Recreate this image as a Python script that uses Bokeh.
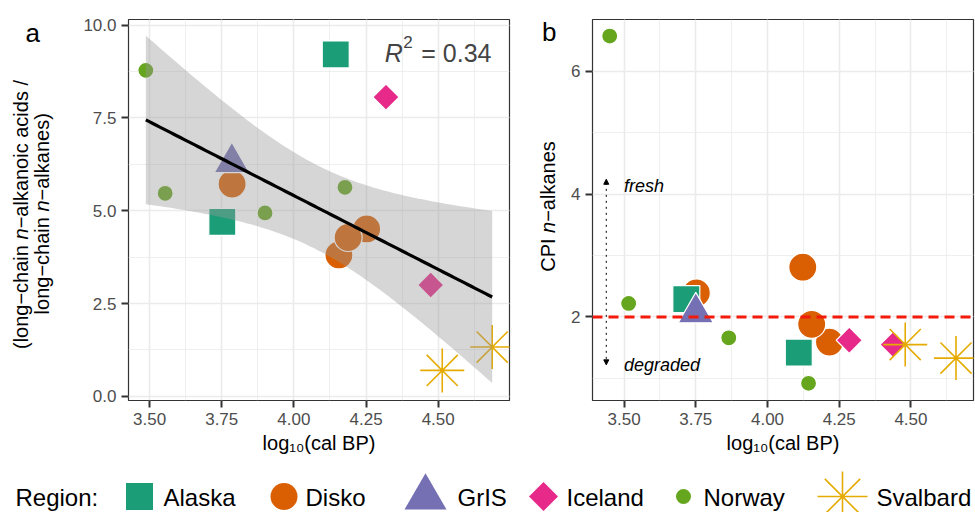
import numpy as np
from bokeh.plotting import figure
from bokeh.layouts import row, column
from bokeh.models import (Range1d, SingleIntervalTicker, PrintfTickFormatter, Label,
                          Arrow, NormalHead, Span)
from bokeh.embed import file_html
from bokeh.resources import INLINE
from bokeh.core.properties import value

FONT = "Liberation Sans"

# ---------------- data ----------------
regions = ["Alaska", "Disko", "GrIS", "Iceland", "Norway", "Svalbard"]
region_colors = ["#1B9E77", "#D95F02", "#7570B3", "#E7298A", "#66A61E", "#E6AB02"]
draw_order = ["Disko", "Alaska", "GrIS", "Iceland", "Norway", "Svalbard"]

# panel a: ratio long-chain n-alkanoic acids / long-chain n-alkanes
a_region = ["Disko", "Disko", "Disko", "Disko",
            "Alaska", "Alaska", "GrIS", "Iceland", "Iceland",
            "Norway", "Norway", "Norway", "Norway", "Svalbard", "Svalbard"]
a_x = [4.156, 4.252, 4.188, 3.786,
       3.752, 4.145, 3.785, 4.319, 4.474,
       3.487, 3.554, 3.900, 4.177, 4.514, 4.687]
a_y = [3.81, 4.51, 4.28, 5.72,
       4.70, 9.21, 6.30, 8.06, 3.00,
       8.78, 5.47, 4.94, 5.63, 0.70, 1.33]
a_r2_text = "0.34"

# panel b: CPI n-alkanes
b_region = ["Disko", "Disko", "Disko", "Disko",
            "Alaska", "Alaska", "GrIS", "Iceland", "Iceland",
            "Norway", "Norway", "Norway", "Norway", "Svalbard", "Svalbard"]
b_x = [3.752, 4.123, 4.216, 4.154,
       3.717, 4.109, 3.750, 4.285, 4.438,
       3.450, 3.516, 3.865, 4.143, 4.480, 4.657]
b_y = [2.39, 2.81, 1.59, 1.88,
       2.29, 1.42, 2.07, 1.62, 1.55,
       6.57, 2.22, 1.66, 0.92, 1.55, 1.33]
cpi_threshold = 2.0
arrow_x = 3.438
arrow_y = [1.22, 4.24]
fresh_label = ("fresh", 3.50, 4.13)
degraded_label = ("degraded", 3.50, 1.22)

# marker style per region: (marker, size, angle)
marker_style = {
    "Alaska": ("square", 27, 0.0),
    "Disko": ("circle", 28, 0.0),
    "GrIS": ("triangle", 35, 0.0),
    "Iceland": ("square", 18.5, np.pi / 4),
    "Norway": ("circle", 16, 0.0),
    "Svalbard": ("asterisk", 44, 0.0),
}
color_of = dict(zip(regions, region_colors))

TICK_COL = "#333333"
LAB_COL = "#4D4D4D"
GRID_COL = "#EBEBEB"
TOP_H = 433          # height of the panel row in page pixels
FR_TOP, FR_BOT = 19, 400   # page y of the panel frames
SP20 = 5.56          # width of a space at 20px


def style(p, xint, yint, xfmt, yfmt):
    p.xaxis.ticker = SingleIntervalTicker(interval=xint, num_minor_ticks=2)
    p.yaxis.ticker = SingleIntervalTicker(interval=yint, num_minor_ticks=2)
    p.xgrid.ticker = p.xaxis.ticker
    p.ygrid.ticker = p.yaxis.ticker
    p.xaxis.formatter = PrintfTickFormatter(format=xfmt)
    p.yaxis.formatter = PrintfTickFormatter(format=yfmt)
    for ax in p.axis:
        ax.axis_line_color = None
        ax.major_tick_line_color = TICK_COL
        ax.major_tick_line_width = 2
        ax.major_tick_out = 7
        ax.major_tick_in = 0
        ax.minor_tick_line_color = None
        ax.major_label_text_font = FONT
        ax.major_label_text_font_size = "17px"
        ax.major_label_text_color = LAB_COL
        ax.major_label_standoff = 5
    for g in p.grid:
        g.grid_line_color = GRID_COL
        g.grid_line_width = 1.6
        g.minor_grid_line_color = GRID_COL
        g.minor_grid_line_width = 0.8
    p.outline_line_color = TICK_COL
    p.outline_line_width = 1.2
    p.background_fill_color = "white"
    p.border_fill_color = "white"


def draw_points(p, reg, xs, ys):
    for r in draw_order:
        idx = [i for i, g in enumerate(reg) if g == r]
        if not idx:
            continue
        mk, sz, ang = marker_style[r]
        xx = [xs[i] for i in idx]
        yy = [ys[i] for i in idx]
        if mk == "asterisk":
            p.scatter(xx, yy, marker=mk, size=sz, line_color=color_of[r], line_width=1.6)
        else:
            p.scatter(xx, yy, marker=mk, size=sz, angle=ang, fill_color=color_of[r],
                      line_color="white", line_width=1.2)


def page_fig(x0, x1, y0, y1, fy0=None, fy1=None):
    """Blank figure whose data coordinates are page pixels (y negated).
    fy0/fy1: page y of the frame (row layouts align frames with the panels)."""
    fy0 = y0 if fy0 is None else fy0
    fy1 = y1 if fy1 is None else fy1
    f = figure(width=x1 - x0, height=y1 - y0, x_range=Range1d(x0, x1),
               y_range=Range1d(-fy1, -fy0), output_backend="svg", toolbar_location=None,
               min_border=0, min_border_top=fy0 - y0, min_border_bottom=y1 - fy1, title=None,
               x_axis_location=None, y_axis_location=None)
    f.grid.visible = False
    f.outline_line_color = None
    f.background_fill_color = "white"
    f.border_fill_color = "white"
    return f


def ptext(f, x, y, txt, size, style="normal", align="left", angle=0.0):
    f.text([x], [-y], text=[txt], text_font=value(FONT), text_font_size=size,
           text_font_style=style, text_align=align, text_baseline="middle", angle=angle,
           text_color="black")


def rot_title(f, segments, xmid, ycenter, size="20px"):
    # segments: (text, style, advance_px); text rotated 90 degrees, reading upwards
    total = sum(w for _, _, w in segments)
    ystart = ycenter + total / 2.0
    cum = 0.0
    for txt, st, w in segments:
        ptext(f, xmid, ystart - cum, txt, size, st, "left", np.pi / 2)
        cum += w


# ---------------- panel a ----------------
pa = figure(frame_width=381, frame_height=381, x_range=Range1d(3.427, 4.747),
            y_range=Range1d(-0.11, 10.15), output_backend="svg", toolbar_location=None,
            min_border_left=48, min_border_right=11, min_border_top=FR_TOP,
            min_border_bottom=TOP_H - FR_BOT)
style(pa, 0.25, 2.5, "%.2f", "%.1f")
draw_points(pa, a_region, a_x, a_y)

# linear fit with 95% confidence band (as geom_smooth(method = "lm"))
xa = np.array(a_x)
ya = np.array(a_y)
n = len(xa)
b1, b0 = np.polyfit(xa, ya, 1)
xs = np.linspace(xa.min(), xa.max(), 100)
yhat = b0 + b1 * xs
resid = ya - (b0 + b1 * xa)
s = np.sqrt((resid ** 2).sum() / (n - 2))
sxx = ((xa - xa.mean()) ** 2).sum()
se = s * np.sqrt(1.0 / n + (xs - xa.mean()) ** 2 / sxx)
tq = 2.160  # t quantile 0.975, df = 13
pa.varea(x=xs, y1=yhat - tq * se, y2=yhat + tq * se, fill_color="#999999", fill_alpha=0.4)
pa.line(xs, yhat, line_color="black", line_width=3.2)

# R^2 annotation (data position of its left end / vertical middle)
r2x, r2y = 4.315, 9.26
pa.add_layout(Label(x=r2x, y=r2y, text="R", text_font=FONT, text_font_size="25px",
                    text_font_style="italic", text_baseline="middle", text_align="left"))
pa.add_layout(Label(x=r2x, y=r2y, x_offset=18.5, y_offset=11, text="2", text_font=FONT,
                    text_font_size="17px", text_baseline="middle", text_align="left"))
pa.add_layout(Label(x=r2x, y=r2y, x_offset=36.5, text="= " + a_r2_text, text_font=FONT,
                    text_font_size="25px", text_baseline="middle", text_align="left"))

# ---------------- panel b ----------------
pb = figure(frame_width=381, frame_height=381, x_range=Range1d(3.39, 4.718),
            y_range=Range1d(0.64, 6.84), output_backend="svg", toolbar_location=None,
            min_border_left=34, min_border_right=2, min_border_top=FR_TOP,
            min_border_bottom=TOP_H - FR_BOT)
style(pb, 0.25, 2, "%.2f", "%d")
draw_points(pb, b_region, b_x, b_y)
pb.add_layout(Span(location=cpi_threshold, dimension="width", line_color="#F21A0A",
                   line_dash="10 6", line_width=3))
pb.add_layout(Arrow(x_start=arrow_x, y_start=arrow_y[0], x_end=arrow_x, y_end=arrow_y[1],
                    start=NormalHead(size=5, fill_color="black", line_color="black"),
                    end=NormalHead(size=5, fill_color="black", line_color="black"),
                    line_dash="dotted", line_width=1, line_color="black"))
for txt, tx, ty in [fresh_label, degraded_label]:
    pb.text([tx], [ty], text=[txt], text_font=value(FONT), text_font_size="18px",
            text_font_style="italic", text_align="left", text_baseline="middle")

# ---------------- side strips with titles ----------------
left_a = page_fig(0, 80, 0, TOP_H, FR_TOP, FR_BOT)
ptext(left_a, 25, 32, "a", "26px")
rot_title(left_a, [("(long\u2212chain", "normal", 104.0 + SP20), ("n", "italic", 11.1),
                   ("\u2212alkanoic acids /", "normal", 148.4)], 20.5, 214)
rot_title(left_a, [("long\u2212chain", "normal", 97.3 + SP20), ("n", "italic", 11.1),
                   ("\u2212alkanes)", "normal", 87.3)], 41.3, 213.3)

left_b = page_fig(520, 558, 0, TOP_H, FR_TOP, FR_BOT)
ptext(left_b, 541.5, 31, "b", "26px")
rot_title(left_b, [("CPI", "normal", 33.3 + SP20), ("n", "italic", 11.1),
                   ("\u2212alkanes", "normal", 80.6)], 547.8, 206)

# ---------------- bottom strip: x titles + legend ----------------
bot = page_fig(0, 975, TOP_H, 512)
ptext(bot, 318.5, 442.8, "log\u2081\u2080(cal BP)", "20px", align="center")
ptext(bot, 782.5, 442.8, "log\u2081\u2080(cal BP)", "20px", align="center")

leg_sym_x = [139, 283.5, 425, 543, 683, 842]
leg_sym_y = [496, 496, 497, 496, 496, 496]
leg_sym_size = [27, 27, 42, 20.5, 15, 50]
leg_text_x = [163, 305, 457, 566, 703, 876]
leg_mid = 496.7
ptext(bot, 15, leg_mid, "Region:", "24px")
for i, r in enumerate(regions):
    mk, _, ang = marker_style[r]
    if mk == "asterisk":
        bot.scatter([leg_sym_x[i]], [-leg_sym_y[i]], marker=mk, size=leg_sym_size[i],
                    line_color=color_of[r], line_width=1.6)
    else:
        bot.scatter([leg_sym_x[i]], [-leg_sym_y[i]], marker=mk, size=leg_sym_size[i], angle=ang,
                    fill_color=color_of[r], line_color=None)
    ptext(bot, leg_text_x[i], leg_mid, r, "24px")

layout = column(row(left_a, pa, left_b, pb, spacing=0), bot, spacing=0)
open("out.html", "w").write(file_html(layout, INLINE))
